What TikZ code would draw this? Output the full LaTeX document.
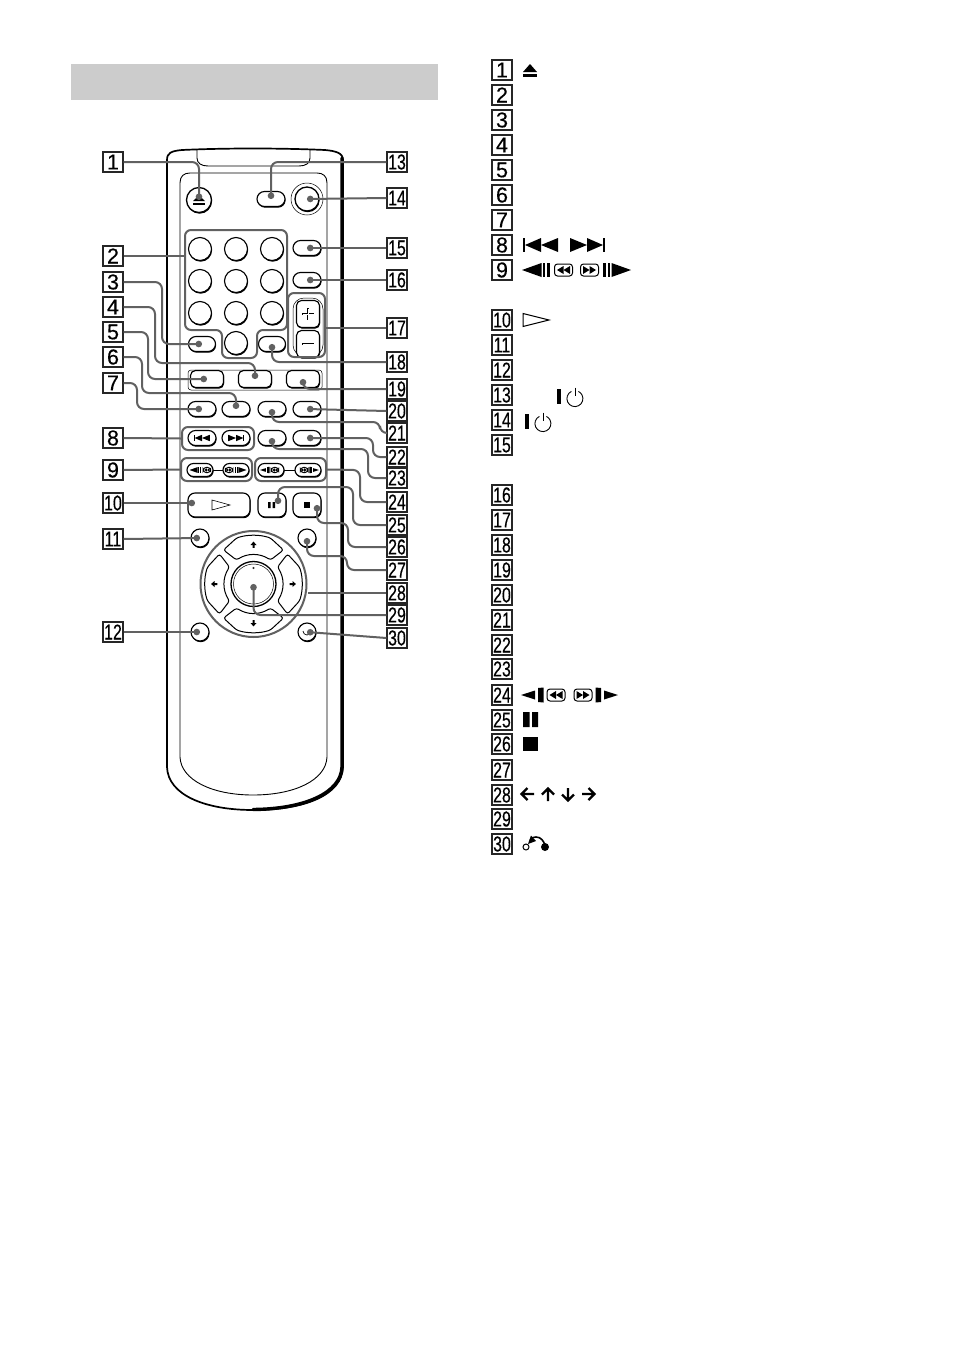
\documentclass[tikz,border=0pt]{standalone}
\usepackage{graphicx}
\usepackage{fontspec}
\setmainfont{Liberation Sans}
\newfontfamily\tagfont[FakeBold=0.35]{Liberation Sans}
\usetikzlibrary{arrows.meta,shapes.misc,shadows}
\definecolor{leadgray}{gray}{0.38}
\definecolor{bandgray}{gray}{0.8}
\newcommand\tagnum[1]{\ifnum#1>9 \scalebox{.74}[1]{#1}\else #1\fi}
\newcommand\dialicon{\draw[line width=1,rounded corners=3] (-9,-6) rectangle (9,6);\fill (-6.5,0)--(0,-4)--(0,4)--cycle;\fill (0,0)--(6.5,-4)--(6.5,4)--cycle;}
\newcommand\symprev[3]{\begin{scope}[shift={(#1,#2)},scale=#3]\fill (-18,-7) rectangle (-15.6,7);\fill (-16,0)--(0,-7)--(0,7)--cycle;\fill (0,0)--(17,-7)--(17,7)--cycle;\end{scope}}
\newcommand\symnext[3]{\begin{scope}[shift={(#1,#2)},xscale=-#3,yscale=#3]\fill (-18,-7) rectangle (-15.6,7);\fill (-16,0)--(0,-7)--(0,7)--cycle;\fill (0,0)--(17,-7)--(17,7)--cycle;\end{scope}}
\newcommand\stepa[4]{\begin{scope}[shift={(#1,#2)},xscale=#4*#3,yscale=#3]\fill (-25,0)--(-5.5,-7)--(-5.5,7)--cycle;\fill (-4.3,-7) rectangle (-1.6,7);\fill (-.2,-7) rectangle (2.6,7);\begin{scope}[shift={(16.5,0)}]\dialicon\end{scope}\end{scope}}
\newcommand\stepb[4]{\begin{scope}[shift={(#1,#2)},xscale=#4*#3,yscale=#3]\fill (-26,0)--(-12,-4.5)--(-12,4.5)--cycle;\fill (-9,-7)--(-3.5,-7.5)--(-3.5,7.5)--(-9,7)--cycle;\begin{scope}[shift={(9,0)}]\dialicon\end{scope}\end{scope}}
\newcommand\sympower[3]{\begin{scope}[shift={(#1,#2)}]\fill (-#3-10.5,-8.5) rectangle (-#3-6.5,6.5);\draw[line width=.9] (-3.6,-5.6) arc[start angle=244,delta angle=-308,radius=8];\draw[line width=.9] (0,-9.5)--(0,-1);\end{scope}}
\newcommand\padarrow{\fill (0,-3.4)--(3,0)--(1,0)--(1,2.8)--(-1,2.8)--(-1,0)--(-3,0)--cycle;}
\newcommand\padkey[1]{\begin{scope}[rotate=#1]\draw[line width=1,fill=white,rounded corners=2.5] (-17,-46) .. controls (-6,-49.5) and (6,-49.5) .. (17,-46) -- (30,-34) -- (17,-24) .. controls (6,-31) and (-6,-31) .. (-17,-24) -- (-30,-34) -- cycle;\begin{scope}[shift={(0,-39)}]\padarrow\end{scope}\end{scope}}
\tikzset{
 numtag/.style={draw=black!85,line width=1.1,minimum size=20,inner sep=0,fill=white,font=\tagfont\fontsize{21.5}{21.5}\selectfont},
 btnbase/.style={draw,line width=1.15,fill=white,inner sep=0,general shadow={shadow xshift=.6pt,shadow yshift=-1.2pt,fill=black}},
 oval/.style={btnbase,rounded rectangle,minimum height=#1},
 oval/.default=15,
 rbtn/.style={btnbase,rectangle,rounded corners=5},
 cbtn/.style={btnbase,circle,minimum size=#1},
 grp/.style={draw=leadgray,line width=2,rounded corners=6,fill=none,inner sep=0},
 lead/.style={draw=leadgray,line width=2,rounded corners=7,-{Circle[length=6.5pt,width=6.5pt]}},
 leadplain/.style={draw=leadgray,line width=2,rounded corners=7},
}
\begin{document}
\begin{tikzpicture}[x=1pt,y=-1pt]
\useasboundingbox (0,0) rectangle (954,1352);
\fill[white] (0,0) rectangle (954,1352);
\fill[bandgray] (71,64) rectangle (438,100);
% remote body
\draw[line width=1.7] (343,160) .. controls (343,153) and (336,151) .. (325,150) .. controls (280,148) and (225,148) .. (182,150) .. controls (171,151) and (167,153) .. (167,160) -- (167,767) .. controls (168,795) and (205,810) .. (253,810) .. controls (305,810) and (342,795) .. (343,767) -- cycle;
\draw[line width=3.4,line cap=round] (342,158) -- (342,767) .. controls (341,793) and (305,809) .. (253,809.5);
\draw[line width=.9] (197,150) -- (197,158) .. controls (197,163) and (201,166) .. (208,166) -- (299,166) .. controls (306,166) and (310,163) .. (310,158) -- (310,150);
\draw[line width=.9] (180,757) -- (180,183) .. controls (180,176) and (184,173) .. (190,173) -- (317,173) .. controls (323,173) and (327,176) .. (327,183) -- (327,757) .. controls (326,780) and (295,795) .. (253,795) .. controls (212,795) and (181,780) .. (180,757) -- cycle;
% buttons
\node[cbtn=25,line width=1.3] (bEject) at (199,200) {};
\fill (193,201)--(199,195.5)--(205,201)--cycle; \fill (193,202.5) rectangle (205,204.5);
\node[oval=15,minimum width=28] (b13) at (271,199) {};
\draw[line width=.5] (307,199) circle (16);
\node[cbtn=24,line width=1.3] (b14) at (307,199) {};
\foreach \nm/\x/\y in {n1/200/249,n2/236/249,n3/272/249,n4/200/281,n5/236/281,n6/272/281,n7/200/313,n8/236/313,n9/272/313,n0/236/343}
  \node[cbtn=23,line width=1.1] (\nm) at (\x,\y) {};
\node[oval=15,minimum width=28] (b15) at (307,248) {};
\node[oval=15,minimum width=28] (b16) at (307,280) {};
\draw[line width=.5,rounded corners=11] (293,298) rectangle (323,356);
\node[rbtn,minimum width=23,minimum height=27] (bPlus) at (308,314) {};
\node[rbtn,minimum width=23,minimum height=27] (bMinus) at (308,344) {};
\draw[line width=2.6] (308,308) -- (308,320) (302,314) -- (314,314) (302,344) -- (314,344);
\draw[white,line width=1] (308,308.5) -- (308,319.5) (302.5,314) -- (313.5,314) (302.5,344) -- (313.5,344);
\node[oval=15,minimum width=27] (b3) at (202,344) {};
\node[oval=15,minimum width=27] (b18) at (272,344) {};
\draw[line width=.5,rounded corners=3] (188,370) rectangle (322,390);
\node[rbtn,minimum width=33,minimum height=17] (b5) at (207,379) {};
\node[rbtn,minimum width=33,minimum height=17] (b4) at (255,379) {};
\node[rbtn,minimum width=33,minimum height=17] (b19) at (303,379) {};
\foreach \nm/\x in {b7/202,b6/236,b21/272,b20/307}
  \node[oval=15,minimum width=28] (\nm) at (\x,409) {};
\node[oval=15,minimum width=28] (bPrev) at (202,438) {};
\node[oval=15,minimum width=28] (bNext) at (236,438) {};
\symprev{202}{438}{.46}
\symnext{236}{438}{.46}
\node[oval=15,minimum width=28] (b23) at (272,438) {};
\node[oval=15,minimum width=28] (b22) at (307,438) {};
\draw[line width=1] (200,470) -- (236,470) (271,470) -- (308,470);
\node[oval=13,minimum width=26] (bs1) at (200,470) {};
\node[oval=13,minimum width=26] (bs2) at (236,470) {};
\node[oval=13,minimum width=26] (bs3) at (271,470) {};
\node[oval=13,minimum width=26] (bs4) at (308,470) {};
\stepa{200}{470}{.42}{1}
\stepa{236}{470}{.42}{-1}
\stepb{271}{470}{.42}{1}
\stepb{308}{470}{.42}{-1}
\node[rbtn,rounded corners=7,minimum width=62,minimum height=24] (b10) at (219,505) {};
\draw[line width=.6] (212,500) -- (230,505) -- (212,510) -- cycle;
\node[rbtn,rounded corners=7,minimum width=28,minimum height=24] (b25) at (272,505) {};
\fill (268,502) rectangle (270.5,508) (272.5,502) rectangle (275,508);
\node[rbtn,rounded corners=7,minimum width=28,minimum height=24] (b26) at (307,505) {};
\fill (304,502) rectangle (310,508);
\node[cbtn=18] (b11) at (200,538) {};
\node[cbtn=18] (b27) at (307,538) {};
\node[cbtn=18] (b12) at (200,632) {};
\node[cbtn=18] (b30) at (307,632) {};
\draw[line width=.7] (303,631) arc[start angle=180,end angle=0,radius=4];
% d-pad
\node[circle,draw=leadgray,line width=2,minimum size=106,inner sep=0] (gPad) at (253.5,584) {};
\begin{scope}[shift={(253.5,584)}]
\padkey{0}\padkey{90}\padkey{180}\padkey{270}
\end{scope}
\node[circle,draw,line width=1.3,fill=white,minimum size=45,inner sep=0] (bEnter) at (253.5,584) {};
\draw[line width=.5] (253.5,584) circle (20);
\draw[line width=.4] (253.5,568) circle (.9);
% group outlines
\draw[grp] (185,230) -- (287,230) -- (287,330) -- (257,330) -- (257,358) -- (222,358) -- (222,330) -- (185,330) -- cycle;
\node[grp,rectangle,minimum width=37,minimum height=64] (g17) at (306.5,325) {};
\node[grp,rectangle,minimum width=72,minimum height=23] (g8) at (218,438.5) {};
\node[grp,rectangle,minimum width=71,minimum height=23] (g9) at (216.5,469.5) {};
\node[grp,rectangle,minimum width=71,minimum height=23] (g24) at (290.5,469.5) {};
\coordinate (g2) at (185,256);
\coordinate (p10) at (195,503);
\coordinate (p25) at (278,504);
\coordinate (p26) at (317,505);
% diagram tags
\foreach \n/\y in {1/162,2/256,3/282,4/307,5/332,6/357,7/383,8/438,9/470,10/503,11/539,12/632}
  \node[numtag] (d\n) at (113,\y) {\tagnum{\n}};
\foreach \n/\y in {13/162,14/198,15/248,16/280,17/328,18/362,19/389,20/411,21/433,22/457,23/478,24/502,25/525,26/547,27/570,28/593,29/615,30/638}
  \node[numtag] (d\n) at (397,\y) {\tagnum{\n}};
% connectors
\draw[lead] (d1.east) -| (bEject.center);
\draw[leadplain] (d2.east) -- (g2);
\draw[lead] (d3.east) -| (162,344) -- (b3.center);
\draw[lead] (d4.east) -| (155,363) -| (b4.center);
\draw[lead] (d5.east) -| (148,379) -- (b5.center);
\draw[lead] (d6.east) -| (142,393) -| (b6.center);
\draw[lead] (d7.east) -| (137,409) -- (b7.center);
\draw[leadplain] (d8.east) -- (g8.west);
\draw[leadplain] (d9.east) -- (g9.west);
\draw[lead] (d10.east) -- (p10);
\draw[lead] (d11.east) -- (b11.center);
\draw[lead] (d12.east) -- (b12.center);
\draw[lead] (d13.west) -| (b13.center);
\draw[lead] (d14.west) -- (b14.center);
\draw[lead] (d15.west) -- (b15.center);
\draw[lead] (d16.west) -- (b16.center);
\draw[leadplain] (d17.west) -- (g17.east |- d17.west);
\draw[lead] (d18.west) -| (b18.center);
\draw[lead] (d19.west) -| (b19.center);
\draw[lead] (d20.west) -- (b20.center);
\draw[lead] (d21.west) -| (380,422) -| (b21.center);
\draw[lead] (d22.west) -| (373,438) -- (b22.center);
\draw[lead] (d23.west) -| (368,449) -| (b23.center);
\draw[leadplain] (d24.west) -| (360,470) -- (g24.east);
\draw[lead] (d25.west) -| (353,487) -| (p25);
\draw[lead] (d26.west) -| (348,523) -| (p26);
\draw[lead] (d27.west) -| (347,556) -| (b27.center);
\draw[leadplain] (d28.west) -- (gPad.east |- d28.west);
\draw[lead] (d29.west) -| (bEnter.center);
\draw[lead] (d30.west) -- (b30.center);
% list tags
\foreach \n/\y in {1/70,2/95,3/120,4/145,5/170,6/195,7/220,8/245,9/270,10/320,11/345,12/370,13/395,14/420,15/445,16/495,17/520,18/545,19/570,20/595,21/620,22/645,23/669,24/695,25/720,26/744,27/770,28/795,29/819,30/844}
  \node[numtag] (t\n) at (502,\y) {\tagnum{\n}};
% list symbols
\fill (523,72)--(530,64)--(537,72)--cycle; \fill (523,74) rectangle (537,76.5);
\symprev{541}{245}{1}
\symnext{587}{245}{1}
\stepa{547}{270}{1}{1}
\stepa{606}{270}{1}{-1}
\draw[line width=1] (523,313.5) -- (549,320) -- (523,326.5) -- cycle;
\sympower{575}{397}{8}
\sympower{543}{422}{8}
\stepb{547}{695}{1}{1}
\stepb{592}{695}{1}{-1}
\fill (523,712) rectangle (529.5,727) (532,712) rectangle (538,727);
\fill (523,737) rectangle (538,751);
\begin{scope}[line width=2.4]
\draw (534,794) -- (522,794) (527.5,788) -- (521.5,794) -- (527.5,800);
\draw (548,801) -- (548,789) (542,794.5) -- (548,788.5) -- (554,794.5);
\draw (568,788) -- (568,800) (562,794.5) -- (568,800.5) -- (574,794.5);
\draw (582,794) -- (594,794) (588.5,788) -- (594.5,794) -- (588.5,800);
\end{scope}
\draw[line width=1] (526,847) circle (3);
\fill (545,847) circle (4);
\draw[line width=1.6] (530,840) .. controls (532,837.5) and (534,837) .. (536,837) .. controls (541,837) and (544,841) .. (545,846);
\fill (528,844)--(531,835.5)--(536,841)--cycle;
\end{tikzpicture}
\end{document}
